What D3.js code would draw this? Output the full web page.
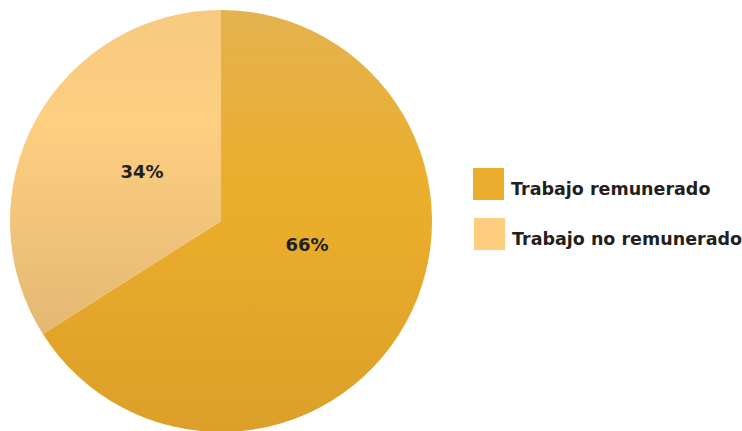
<!DOCTYPE html>
<html>
<head>
<meta charset="utf-8">
<script src="https://cdn.jsdelivr.net/npm/d3@7"></script>
<style>
body { margin: 0; background: #fff; }
text { font-family: "DejaVu Sans", sans-serif; font-weight: 700; fill: #231f20; }
</style>
</head>
<body>
<div id="chart"></div>
<script>
var categories = ["Trabajo remunerado", "Trabajo no remunerado"];
var values = [66, 34];
var labels = ["66%", "34%"];
// small nudge of label angle (deg) and radius factor
var labelShift = [-13.5, 3.2];
var labelRadius = [0.423, 0.442];

var width = 742, height = 431;
var cx = 221, cy = 221, R = 211;

var svg = d3.select("#chart").append("svg")
    .attr("width", width)
    .attr("height", height);

var defs = svg.append("defs");
var gradDark = defs.append("linearGradient")
    .attr("id", "gDark").attr("x1", 0).attr("y1", 0).attr("x2", 0).attr("y2", 1);
gradDark.append("stop").attr("offset", "0%").attr("stop-color", "#e4b24f");
gradDark.append("stop").attr("offset", "45%").attr("stop-color", "#ebae2b");
gradDark.append("stop").attr("offset", "100%").attr("stop-color", "#dc9f29");

var gradLight = defs.append("linearGradient")
    .attr("id", "gLight").attr("x1", 0).attr("y1", 0).attr("x2", 0).attr("y2", 1);
gradLight.append("stop").attr("offset", "0%").attr("stop-color", "#f6ca80");
gradLight.append("stop").attr("offset", "35%").attr("stop-color", "#fecf81");
gradLight.append("stop").attr("offset", "100%").attr("stop-color", "#e4b874");

var color = d3.scaleOrdinal()
    .domain(categories)
    .range(["url(#gDark)", "url(#gLight)"]);
var swatch = d3.scaleOrdinal()
    .domain(categories)
    .range(["#eaad2d", "#fecd7f"]);

var pie = d3.pie().sort(null).value(d => d);
var arcs = pie(values);

var arc = d3.arc().innerRadius(0).outerRadius(R);

var g = svg.append("g").attr("transform", "translate(" + cx + "," + cy + ")");

g.selectAll("path.slice")
    .data(arcs)
    .enter().append("path")
    .attr("class", "slice")
    .attr("fill", (d, i) => color(categories[i]))
    .attr("d", arc);

g.selectAll("text.lbl")
    .data(arcs)
    .enter().append("text")
    .attr("class", "lbl")
    .attr("text-anchor", "middle")
    .attr("dy", "0.36em")
    .style("font-size", "18px")
    .attr("x", (d, i) => {
        var a = (d.startAngle + d.endAngle) / 2 + labelShift[i] * Math.PI / 180;
        return Math.sin(a) * R * labelRadius[i];
    })
    .attr("y", (d, i) => {
        var a = (d.startAngle + d.endAngle) / 2 + labelShift[i] * Math.PI / 180;
        return -Math.cos(a) * R * labelRadius[i];
    })
    .text((d, i) => labels[i]);

var legend = svg.append("g").attr("transform", "translate(473,168)");
var item = legend.selectAll("g.item")
    .data(categories)
    .enter().append("g")
    .attr("class", "item")
    .attr("transform", (d, i) => "translate(" + (i * 1) + "," + (i * 50) + ")");

item.append("rect")
    .attr("width", 31).attr("height", 32)
    .attr("fill", d => swatch(d));

item.append("text")
    .attr("x", 38).attr("y", 27)
    .style("font-size", "17.5px")
    .text(d => d);
</script>
</body>
</html>
